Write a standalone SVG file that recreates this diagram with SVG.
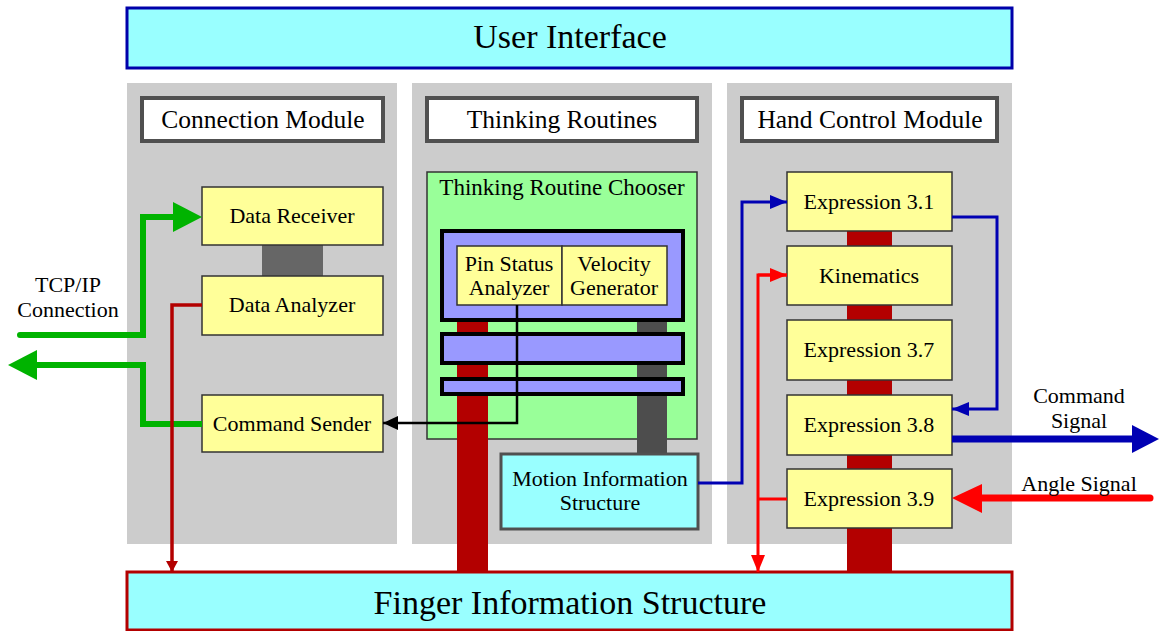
<svg xmlns="http://www.w3.org/2000/svg" width="1159" height="631" viewBox="0 0 1159 631">
<style>
text{font-family:"Liberation Serif","Times New Roman",serif;fill:#000;text-anchor:middle}
.panel{fill:#cccccc}
.hdr{fill:#fff;stroke:#505050;stroke-width:4}
.yel{fill:#ffff99;stroke:#333;stroke-width:1.5}
.th{font-size:25.5px}
.t22{font-size:22px}
.purple{fill:#9999ff;stroke:#000;stroke-width:4}
</style>
<defs>
<marker id="ab" markerUnits="userSpaceOnUse" markerWidth="18" markerHeight="16" refX="17" refY="8" orient="auto"><path d="M0,1 L17,8 L0,15 Z" fill="#0000b3"/></marker>
<marker id="ar" markerUnits="userSpaceOnUse" markerWidth="18" markerHeight="16" refX="17" refY="8" orient="auto"><path d="M0,1 L17,8 L0,15 Z" fill="#ff0000"/></marker>
<marker id="adr" markerUnits="userSpaceOnUse" markerWidth="12" markerHeight="18" refX="11" refY="6" orient="auto"><path d="M0,0 L11,6 L0,12 Z" fill="#b30000"/></marker>
<marker id="ak" markerUnits="userSpaceOnUse" markerWidth="16" markerHeight="14" refX="15" refY="7" orient="auto"><path d="M0,0 L15,7 L0,14 Z" fill="#000"/></marker>
</defs>

<g id="user-interface"><rect x="127" y="8" width="885" height="60" fill="#99ffff" stroke="#0000aa" stroke-width="3"/><text x="570" y="48" font-size="34">User Interface</text></g>

<g id="panels">
<rect class="panel" x="127" y="83" width="270" height="461"/>
<rect class="panel" x="412" y="83" width="300" height="461"/>
<rect class="panel" x="727" y="83" width="285" height="461"/>
</g>

<g id="connection-module"><rect class="hdr" x="142" y="98" width="241" height="43"/><text class="th" x="263" y="128">Connection Module</text></g>
<g id="thinking-routines"><rect class="hdr" x="427" y="98" width="270" height="43"/><text class="th" x="562" y="128">Thinking Routines</text></g>
<g id="hand-control-module"><rect class="hdr" x="742" y="98" width="255" height="43"/><text class="th" x="870" y="128">Hand Control Module</text></g>

<g id="thinking-routine-chooser"><rect x="427" y="172" width="270" height="267" fill="#99ff99" stroke="#333" stroke-width="1.5"/><text x="562" y="195" font-size="23">Thinking Routine Chooser</text></g>

<g id="bars">
<rect x="262" y="245" width="61" height="31" fill="#666"/>
<rect x="457" y="320" width="31" height="252" fill="#b30000"/>
<rect x="637" y="320" width="30" height="134" fill="#4d4d4d"/>
<rect x="847" y="231" width="45" height="341" fill="#b30000"/>
</g>

<g id="routine-stack">
<rect class="purple" x="442" y="231" width="241" height="89"/>
<rect class="purple" x="442" y="334" width="241" height="29"/>
<rect class="purple" x="442" y="379" width="241" height="15"/>
</g>
<g id="pin-status-analyzer"><rect class="yel" x="457" y="246" width="105" height="59"/><text class="t22" x="509" y="271">Pin Status</text><text class="t22" x="509" y="295">Analyzer</text></g>
<g id="velocity-generator"><rect class="yel" x="562" y="246" width="105" height="59"/><text class="t22" x="614" y="271">Velocity</text><text class="t22" x="614" y="295">Generator</text></g>

<g id="data-receiver"><rect class="yel" x="202" y="187" width="181" height="58"/><text class="t22" x="292" y="223">Data Receiver</text></g>
<g id="data-analyzer"><rect class="yel" x="202" y="276" width="181" height="59"/><text class="t22" x="292" y="312">Data Analyzer</text></g>
<g id="command-sender"><rect class="yel" x="202" y="395" width="181" height="57"/><text class="t22" x="292" y="431">Command Sender</text></g>

<g id="motion-information-structure"><rect x="501" y="454" width="197" height="75" fill="#99ffff" stroke="#505050" stroke-width="3"/><text class="t22" x="600" y="486">Motion Information</text><text class="t22" x="600" y="510">Structure</text></g>

<g id="expression-3-1"><rect class="yel" x="787" y="172" width="165" height="59"/><text class="t22" x="869" y="209">Expression 3.1</text></g>
<g id="kinematics"><rect class="yel" x="787" y="246" width="165" height="59"/><text class="t22" x="869" y="283">Kinematics</text></g>
<g id="expression-3-7"><rect class="yel" x="787" y="320" width="165" height="60"/><text class="t22" x="869" y="357">Expression 3.7</text></g>
<g id="expression-3-8"><rect class="yel" x="787" y="395" width="165" height="60"/><text class="t22" x="869" y="432">Expression 3.8</text></g>
<g id="expression-3-9"><rect class="yel" x="787" y="469" width="165" height="59"/><text class="t22" x="869" y="506">Expression 3.9</text></g>

<g id="finger-information-structure"><rect x="127" y="572" width="885" height="58" fill="#99ffff" stroke="#b30000" stroke-width="3"/><text x="570" y="614" font-size="34">Finger Information Structure</text></g>

<g id="connectors" fill="none">
<path d="M20,335 H143 V217 H175" stroke="#00b300" stroke-width="6" stroke-linecap="round"/>
<path d="M173,202 L202,217 L173,232 Z" fill="#00b300"/>
<path d="M202,424 H143 V365 H36" stroke="#00b300" stroke-width="6"/>
<path d="M37,350 L8,365 L37,380 Z" fill="#00b300"/>
<path d="M202,305 H172 V572" stroke="#b30000" stroke-width="3.5" marker-end="url(#adr)"/>
<path d="M517,305 V423 H383" stroke="#000" stroke-width="2.5" marker-end="url(#ak)"/>
<path d="M698,483 H742 V202 H787" stroke="#0000b3" stroke-width="3" marker-end="url(#ab)"/>
<path d="M952,217 H997 V409 H952" stroke="#0000b3" stroke-width="3" marker-end="url(#ab)"/>
<path d="M952,439 H1135" stroke="#0000b3" stroke-width="7"/>
<path d="M1132,425 L1159,439 L1132,453 Z" fill="#0000b3"/>
<path d="M1150,498 H980" stroke="#ff0000" stroke-width="7" stroke-linecap="round"/>
<path d="M982,484 L952,498 L982,513 Z" fill="#ff0000"/>
<path d="M787,275 H758 V572" stroke="#ff0000" stroke-width="3" marker-end="url(#ar)"/>
<path d="M758,275 H787" stroke="#ff0000" stroke-width="3" marker-end="url(#ar)"/>
<path d="M787,499 H758" stroke="#ff0000" stroke-width="3"/>
</g>

<g id="labels">
<text class="t22" x="68" y="292">TCP/IP</text>
<text class="t22" x="68" y="317">Connection</text>
<text class="t22" x="1079" y="403">Command</text>
<text class="t22" x="1079" y="428">Signal</text>
<text class="t22" x="1079" y="491">Angle Signal</text>
</g>
</svg>
